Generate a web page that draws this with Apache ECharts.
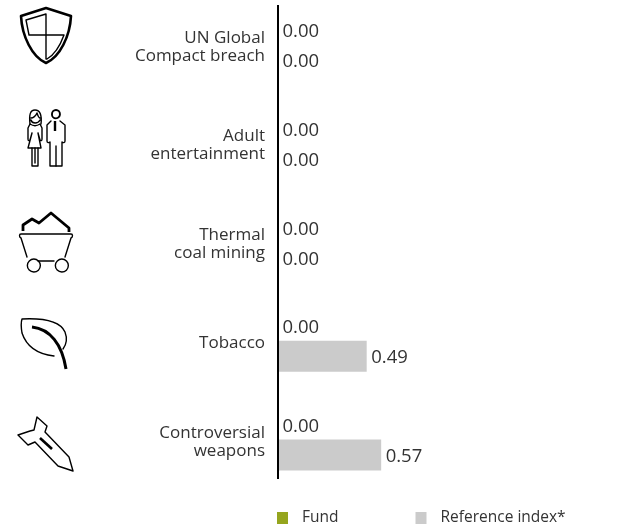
<!DOCTYPE html>
<html><head><meta charset="utf-8">
<style>html,body{margin:0;padding:0;background:#fff}#c{width:630px;height:526px}</style>
<script src="https://cdn.jsdelivr.net/npm/echarts@6/dist/echarts.min.js"></script>
</head><body><div id="c"></div>
<script>
const categories = ['UN Global\nCompact breach','Adult\nentertainment','Thermal\ncoal mining','Tobacco','Controversial\nweapons'];
const fundValues = [0,0,0,0,0];
const referenceValues = [0,0,0,0.49,0.57];
const seriesNames = ['Fund','Reference index*'];
const FONT = '"Open Sans","Noto Sans",sans-serif';
const TEXT = '#333';
const thin = {stroke:'#000',fill:'none',lineWidth:1.4,lineJoin:'round',lineCap:'round'};
const mid = {stroke:'#000',fill:'none',lineWidth:1.9,lineJoin:'round',lineCap:'round'};
const thick = {stroke:'#000',fill:'none',lineWidth:2.8,lineJoin:'round',lineCap:'butt'};
let iconCount = 0;
function P(d,style){
  const name = 'icon' + (iconCount++);
  echarts.graphic.registerShape(name, echarts.graphic.extendPath(d, {}));
  return {type:name,style,silent:true};
}
const icons = [
 // shield
 P('M21 16L46 8L71 16C70 36 60 57 46 63C32 57 22 36 21 16Z',{...thick,lineWidth:2.6}),
 P('M46 14L26 20L29 35L46 35L46 14M46 35L64 35C60 46 54 55 47 59L46 59L46 35',thin),
 // woman
 P('M30 124C29 115 30 110 35 110C40 110 42 115 41 124M31 118C33 118 36 116 37 113C38 116 39 118 40 118M31 120C32 124 38 124 40 120',thin),
 P('M30 124L28 128L28 139C28 141 29 141 30 140L32 133L28 148L41 148L38 133L40 140C41 141 42 141 42 139L42 128L40 124C37 126 33 126 30 124Z',thin),
 P('M32 148L32 166L38 166L38 148M35 148L35 163',thin),
 // man
 P('M56 110A4 4.2 0 1 1 55.9 110Z',mid),
 P('M51 121L47 125L47 141C47 143 49 143 50 142L50 166L62 166L62 142C63 143 65 143 65 141L65 125L60 121',thin),
 P('M56 146L56 166',thin),
 P('M55 121L55 131',{...thick,lineWidth:2.4}),
 // cart
 P('M23 231L23 225L32 219L39 223L51 213L69 228L69 232',thick),
 P('M21 234L71 234C73 234 73 237 71 238L65 257M21 238C19 237 19 234 21 234M21 238L27 257M38 261L54 261',thin),
 P('M38.5 261A6.5 6.5 0 1 1 38.4 260.9ZM66.5 261A6.5 6.5 0 1 1 66.4 260.9Z',thin),
 // leaf
 P('M54 356C36 354 26 345 22 333C21 327 21 322 22 319C42 318 60 321 65 332C68 340 66 345 63 349',thin),
 P('M32 327C50 329 62 344 66 369',{...thick,lineWidth:3}),
 // rocket
 P('M73 471L69 457L45 432L47 426L37 417L34 430L30 431L18 435L28 445L35 442L58 466Z',thin),
 P('M40 438L52 449',{...thick,lineWidth:2.6})
];
const axisRule = {type:'line',shape:{x1:278,y1:5,x2:278,y2:479},style:{stroke:'#000',lineWidth:2},silent:true,z:10};
const label = {show:true,position:'right',distance:4.5,offset:[0,2],color:TEXT,fontFamily:FONT,fontSize:18.5,formatter:p=>p.value.toFixed(2)};
const chart = echarts.init(document.getElementById('c'),null,{renderer:'canvas'});
chart.setOption({
 animation:false,
 backgroundColor:'#fff',
 grid:{left:278,width:181,top:-4.5,height:493.75,containLabel:false,outerBoundsMode:'none'},
 xAxis:{type:'value',min:0,max:1,show:false},
 yAxis:{type:'category',inverse:true,data:categories,
  axisLine:{show:false},axisTick:{show:false},
  axisLabel:{align:'right',margin:13,
   formatter:v=>'{s| }\n'+v.split('\n').map(l=>'{a|'+l+'}').join('\n'),
   rich:{
    a:{color:TEXT,fontFamily:FONT,fontSize:17,lineHeight:18,align:'right'},
    s:{fontSize:4,lineHeight:4}
   }}},
 legend:{left:277,top:510,padding:0,itemWidth:11,itemHeight:12,itemGap:77,itemStyle:{borderWidth:0},
  icon:'rect',textStyle:{color:TEXT,fontFamily:FONT,fontSize:15.5,padding:[0,0,0,9]},data:seriesNames},
 series:[
  {name:seriesNames[0],type:'bar',data:fundValues,barWidth:31,barGap:'-3%',itemStyle:{color:'#95a51e'},label},
  {name:seriesNames[1],type:'bar',data:referenceValues,barWidth:31,barGap:'-3%',itemStyle:{color:'#cbcbcb'},label}
 ],
 graphic:[axisRule,...icons]
});
</script></body></html>
